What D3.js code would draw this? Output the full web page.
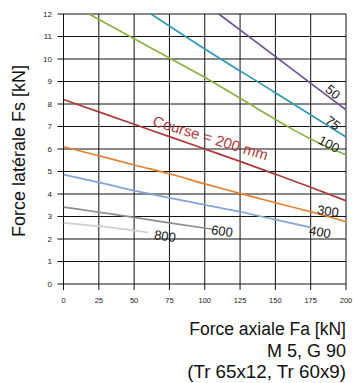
<!DOCTYPE html>
<html><head><meta charset="utf-8">
<script src="https://cdn.jsdelivr.net/npm/d3@7"></script>
<style>
html,body{margin:0;padding:0;background:#fff;}
svg{display:block;}
</style></head>
<body>
<svg id="chart" width="354" height="383"></svg>
<script>
// Data (Fa [kN] -> Fs [kN]) per stroke length
const xTicks = [0,25,50,75,100,125,150,175,200];
const yTicks = [0,1,2,3,4,5,6,7,8,9,10,11,12];

const c50x  = [110,155,200];
const c50y  = [12,9.87,7.74];
const c75x  = [62,97,150,200];
const c75y  = [12,10.57,8.5,6.53];
const c100x = [18,97,189,200];
const c100y = [12,9.29,6.03,5.74];
const c200x = [0,25,50,75,100,125,150,175,200];
const c200y = [8.2,7.65,7.1,6.55,6.0,5.45,4.88,4.3,3.7];
const c300x = [0,25,50,75,100,125,150,175,200];
const c300y = [6.1,5.7,5.29,4.9,4.45,4.03,3.61,3.21,2.77];
const c400x = [0,25,50,75,100,125,150,175];
const c400y = [4.86,4.52,4.15,3.83,3.52,3.21,2.86,2.52];
const c600x = [0,25,50,75,105];
const c600y = [3.42,3.19,2.96,2.72,2.44];
const c800x = [0,25,50,60];
const c800y = [2.72,2.57,2.38,2.29];

const seriesNames  = ["50","75","100","200","300","400","600","800"];
const seriesColors = ["#6e4f9b","#2f98b8","#8bb043","#b0393a","#e5822f","#84a4d6","#8e8e8e","#cfcfcf"];

const svg = d3.select("#chart");
const x = d3.scaleLinear().domain([0,200]).range([63.5,346]);
const y = d3.scaleLinear().domain([0,12]).range([284,14]);

// Grid
const g = svg.append("g");
g.selectAll(".vg").data(xTicks).enter().append("line")
  .attr("x1",d=>x(d)).attr("x2",d=>x(d)).attr("y1",y(12)).attr("y2",y(0)+6)
  .attr("stroke","#111").attr("stroke-width",1);
g.selectAll(".hg").data(yTicks).enter().append("line")
  .attr("x1",x(0)-6).attr("x2",x(200)).attr("y1",d=>y(d)).attr("y2",d=>y(d))
  .attr("stroke","#111").attr("stroke-width",1);

// Tick labels
g.selectAll(".yl").data(yTicks).enter().append("text")
  .attr("x",52).attr("y",d=>y(d)).attr("dy","0.35em")
  .attr("text-anchor","end").attr("font-family","Liberation Sans, Arial, sans-serif")
  .attr("font-size","8px").attr("fill","#222").text(d=>d);
g.selectAll(".xl").data(xTicks).enter().append("text")
  .attr("x",d=>x(d)).attr("y",300).attr("dy","0.35em")
  .attr("text-anchor","middle").attr("font-family","Liberation Sans, Arial, sans-serif")
  .attr("font-size","7.5px").attr("fill","#222").text(d=>d);

// Clip
svg.append("clipPath").attr("id","clip").append("rect")
  .attr("x",x(0)).attr("y",y(12)).attr("width",x(200)-x(0)).attr("height",y(0)-y(12));

const allX = [c50x,c75x,c100x,c200x,c300x,c400x,c600x,c800x];
const allY = [c50y,c75y,c100y,c200y,c300y,c400y,c600y,c800y];
const line = d3.line().x(d=>x(d[0])).y(d=>y(d[1])).curve(d3.curveMonotoneX);
const lg = svg.append("g").attr("clip-path","url(#clip)");
allX.forEach((xs,i)=>{
  const pts = xs.map((v,j)=>[v, allY[i][j]]);
  lg.append("path").attr("d",line(pts)).attr("fill","none")
    .attr("stroke",seriesColors[i]).attr("stroke-width",1.7);
});

// Curve labels
const labelTexts = ["50","75","100","300","400","600","800"];
const labelX = [333,333,329,328,320,222,165];
const labelY = [92,123,144,211,232,231,236];
const labelRot = [40,38,28,8,10,8,8];
labelTexts.forEach((t,i)=>{
  svg.append("text").attr("transform",`translate(${labelX[i]},${labelY[i]}) rotate(${labelRot[i]})`)
    .attr("text-anchor","middle").attr("dy","0.35em")
    .attr("font-family","Liberation Sans, Arial, sans-serif").attr("font-size","13px")
    .attr("fill","#1a1a1a").text(t);
});
svg.append("text").attr("transform","translate(209,143) rotate(17)")
  .attr("text-anchor","middle")
  .attr("font-family","Liberation Sans, Arial, sans-serif").attr("font-size","15px")
  .attr("fill","#b23a3a").text("Course = 200 mm");

// Axis titles
svg.append("text").attr("transform","translate(25,151) rotate(-90)")
  .attr("text-anchor","middle")
  .attr("font-family","Liberation Sans, Arial, sans-serif").attr("font-size","18px")
  .attr("fill","#111").text("Force latérale Fs [kN]");
const bottomLines = ["Force axiale Fa [kN]","M 5, G 90","(Tr 65x12, Tr 60x9)"];
const bottomY = [335,357,378];
const bottomW = [157,79,159];
bottomLines.forEach((t,i)=>{
  const tx = svg.append("text")
    .attr("text-anchor","end")
    .attr("font-family","Liberation Sans, Arial, sans-serif")
    .attr("font-size","19px").attr("fill","#111").text(t);
  const w = tx.node().getComputedTextLength();
  const s = Math.min(1, bottomW[i] / w);
  tx.attr("transform",`translate(346,${bottomY[i]}) scale(${s},1)`);
});
</script>
</body></html>
